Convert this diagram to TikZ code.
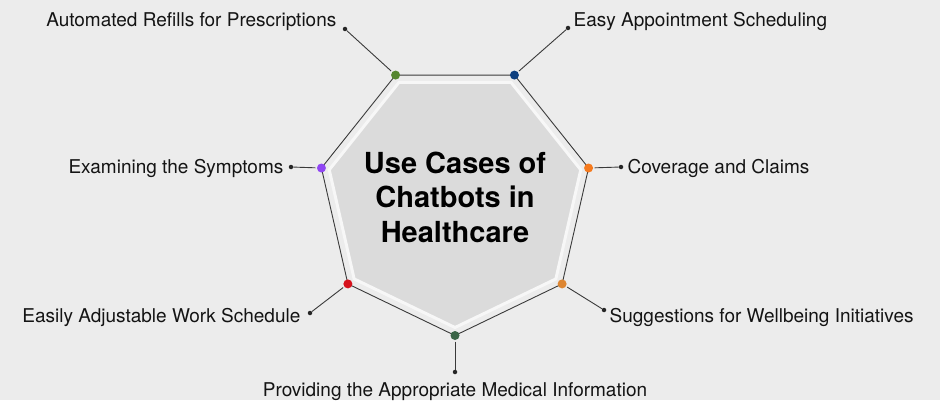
\documentclass[tikz,border=0pt]{standalone}
\usepackage{fontspec}
\setmainfont{TeX Gyre Heros}
\usetikzlibrary{positioning}

\definecolor{paper}{HTML}{ECECEC}
\definecolor{core}{HTML}{DBDBDB}
\definecolor{rim}{HTML}{F7F7F7}
\definecolor{wire}{HTML}{3A3A3A}
\definecolor{refillgreen}{HTML}{55862F}
\definecolor{bookblue}{HTML}{0E3F7E}
\definecolor{claimorange}{HTML}{F57A1E}
\definecolor{wellbrown}{HTML}{DD8632}
\definecolor{infogreen}{HTML}{3A6547}
\definecolor{shiftred}{HTML}{D6121D}
\definecolor{symppurple}{HTML}{9046F3}

\begin{document}
\begin{tikzpicture}[
        x=1pt, y=1pt,
        corner/.style={
          circle,
          inner sep=0pt,
          minimum size=9pt,
          outer sep=1.5pt
        },
        tipdot/.style={
          circle,
          fill=black!85,
          inner sep=0pt,
          minimum size=4.5pt
        },
        usecase/.style={
          inner sep=0pt,
          text=black!92,
          font=\fontsize{19}{23}\selectfont
        },
        wired/.style={draw=wire, line width=0.9pt}]
      \fill[paper] (0,0) rectangle (940,400);
      \useasboundingbox (0,0) rectangle (940,400);
      \begin{scope}[shift={(455,201.5)}]
        % inner plate
        \draw[fill=core, draw=rim, line width=3pt]
          (115.71:129) -- (64.29:129) -- (12.86:129) -- (-38.57:129) --
          (-90:129) -- (-141.43:129) -- (167.14:129) -- cycle;
        % corners
        \node[corner] (refill) at (115.71:137) {};
        \node[corner] (booking) at (64.29:137) {};
        \node[corner] (claims) at (12.86:137) {};
        \node[corner] (wellbeing) at (-38.57:137) {};
        \node[corner] (info) at (-90:137) {};
        \node[corner] (shifts) at (-141.43:137) {};
        \node[corner] (symptoms) at (167.14:137) {};
      \end{scope}
      \draw[wired] (refill.center) -- (booking.center) -- (claims.center) --
        (wellbeing.center) -- (info.center) -- (shifts.center) --
        (symptoms.center) -- cycle;
      \foreach \n/\c in {refill/refillgreen, booking/bookblue,
          claims/claimorange, wellbeing/wellbrown, info/infogreen,
          shifts/shiftred, symptoms/symppurple}
        \fill[\c] (\n.center) circle (4.5pt);

      \node[font=\fontsize{29}{34.5}\selectfont\bfseries, align=center]
        (title) at (455,203) {Use Cases of\\Chatbots in\\Healthcare};

      % leaders and labels
      \node[tipdot] (refillend) at (345,371) {};
      \node[tipdot] (bookingend) at (568,372) {};
      \node[tipdot] (claimsend) at (621,233) {};
      \node[tipdot] (wellbeingend) at (604,90) {};
      \node[tipdot] (infoend) at (455,28) {};
      \node[tipdot] (shiftsend) at (310,87) {};
      \node[tipdot] (symptomsend) at (291,233) {};
      \foreach \n in {refill, booking, claims, wellbeing, info, shifts, symptoms}
        \draw[wired] (\n) -- (\n end);

      \node[usecase, left=6pt of refillend, yshift=7.8pt] (refilltext)
        {Automated Refills for Prescriptions};
      \node[usecase, right=3pt of bookingend, yshift=6.8pt] (bookingtext)
        {Easy Appointment Scheduling};
      \node[usecase, right=4pt of claimsend, yshift=-1.5pt] (claimstext)
        {Coverage and Claims};
      \node[usecase, right=3pt of wellbeingend, yshift=-7pt] (wellbeingtext)
        {Suggestions for Wellbeing Initiatives};
      \node[usecase, below=8pt of infoend] (infotext)
        {Providing the Appropriate Medical Information};
      \node[usecase, left=7pt of shiftsend, yshift=-4pt] (shiftstext)
        {Easily Adjustable Work Schedule};
      \node[usecase, left=5pt of symptomsend, yshift=-1.5pt] (symptomstext)
        {Examining the Symptoms};
      \end{tikzpicture}
\end{document}
